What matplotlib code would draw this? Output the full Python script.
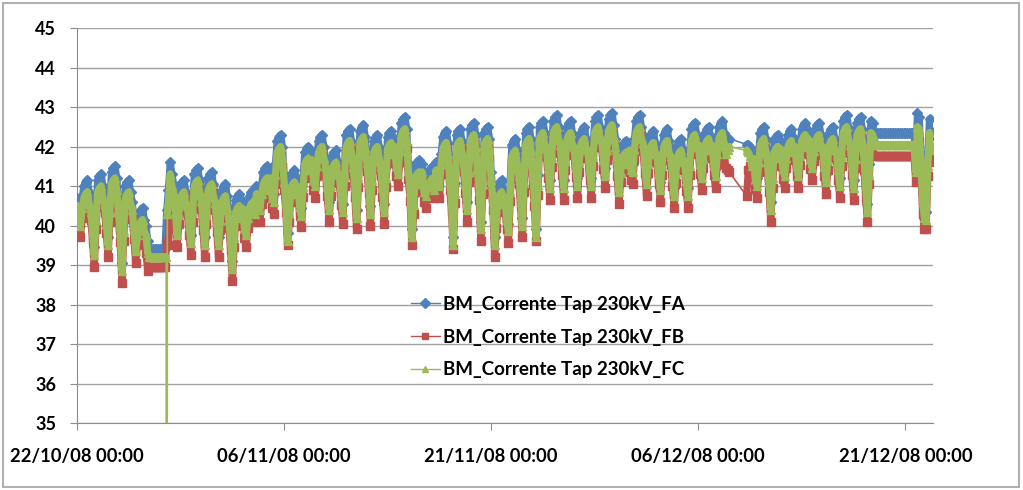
import numpy as np
import pandas as pd
import matplotlib
matplotlib.use("Agg")
import matplotlib.pyplot as plt
import matplotlib.dates as mdates
from matplotlib.lines import Line2D
from matplotlib.patches import Rectangle

plt.rcParams['font.family'] = ['Lato', 'DejaVu Sans']

# readings every 3 hours from 22/10/08 00:00, one row per day (nan = no reading)
START = "2008-10-22 00:00"
STEP = "3h"
nan = np.nan

fa = [
    40.7, 40.4, 40.2, 40.7, 41.0, 41.1, 41.15, 40.85,
    40.55, 40.05, 39.45, 40.4, 41.15, 41.25, 41.3, 41.0,
    40.75, 40.25, 39.7, 40.6, 41.35, 41.45, 41.5, 41.2,
    40.53, 40.03, 39.05, 40.1, 41.0, 41.1, 41.15, 40.85,
    40.6, 40.1, 39.55, 40.0, 40.3, 40.4, 40.45, 40.15,
    40.0, 39.6, 39.4, 39.4, 39.4, 39.4, 39.4, 39.4,
    39.4, 39.4, 39.4, 39.4, 40.4, 40.9, 41.6, 41.3,
    41.03, 40.53, 39.95, 40.55, 41.0, 41.1, 41.15, 40.85,
    40.7, 40.2, 39.75, 40.6, 41.3, 41.4, 41.45, 41.15,
    40.83, 40.33, 39.7, 40.53, 41.2, 41.3, 41.35, 41.05,
    40.78, 40.28, 39.7, 40.38, 40.9, 41.0, 41.05, 40.75,
    40.33, 39.83, 39.1, 39.95, 40.65, 40.75, 40.8, 40.5,
    40.63, 40.13, 39.95, 40.43, 40.75, 40.85, 40.9, 40.6,
    41.0, 40.65, 40.6, 41.05, 41.35, 41.45, 41.5, 41.2,
    41.4, 40.9, 40.8, 41.55, 42.15, 42.25, 42.3, 42.0,
    41.3, 40.8, 39.8, 40.6, 41.25, 41.35, 41.4, 41.1,
    41.18, 40.68, 40.45, 41.23, 41.85, 41.95, 42.0, 41.7,
    41.85, 41.35, 41.2, 41.75, 42.15, 42.25, 42.3, 42.0,
    41.7, 41.2, 40.6, 41.25, 41.75, 41.85, 41.9, 41.6,
    41.48, 40.98, 40.55, 41.5, 42.3, 42.4, 42.45, 42.15,
    41.68, 41.18, 40.4, 41.48, 42.4, 42.5, 42.55, 42.25,
    41.78, 41.28, 40.5, 41.4, 42.15, 42.25, 42.3, 42.0,
    41.68, 41.18, 40.55, 41.48, 42.25, 42.35, 42.4, 42.1,
    42.2, 41.7, 41.5, 42.13, 42.6, 42.7, 42.75, 42.45,
    41.58, 41.08, 39.9, 40.78, 41.5, 41.6, 41.65, 41.35,
    41.55, 41.05, 40.95, 41.23, 41.35, 41.45, 41.5, 41.2,
    41.6, 41.25, 41.2, 41.8, 42.25, 42.35, 42.4, 42.1,
    41.3, 40.8, 39.7, 41.08, 42.3, 42.4, 42.45, 42.15,
    41.78, 41.28, 40.6, 41.6, 42.45, 42.55, 42.6, 42.3,
    41.6, 41.1, 40.1, 41.3, 42.35, 42.45, 42.5, 42.2,
    41.35, 40.85, 39.7, 40.43, 41.0, 41.1, 41.15, 40.85,
    40.85, 40.35, 40.05, 41.13, 42.05, 42.15, 42.2, 41.9,
    41.45, 40.95, 40.2, 41.35, 42.35, 42.45, 42.5, 42.2,
    41.45, 40.95, 39.9, 41.28, 42.5, 42.6, 42.65, 42.35,
    42.15, 41.65, 41.15, 41.98, 42.65, 42.75, 42.8, 42.5,
    42.23, 41.73, 41.15, 41.9, 42.5, 42.6, 42.65, 42.35,
    42.18, 41.68, 41.2, 41.85, 42.35, 42.45, 42.5, 42.2,
    42.1, 41.6, 41.2, 42.0, 42.65, 42.75, 42.8, 42.5,
    42.38, 41.88, 41.45, 42.15, 42.7, 42.8, 42.85, 42.55,
    42.2, 41.7, 41.05, 41.6, 42.0, 42.1, 42.15, 41.85,
    42.1, 41.6, 41.55, 42.18, 42.65, 42.75, 42.8, 42.5,
    42.28, 41.78, 41.25, 41.83, 42.25, 42.35, 42.4, 42.1,
    42.0, 41.5, 41.1, 41.78, 42.3, 42.4, 42.45, 42.15,
    41.95, 41.45, 40.95, 41.58, 42.05, 42.15, 42.2, 41.9,
    41.83, 41.33, 40.95, 41.78, 42.45, 42.55, 42.6, 42.3,
    42.25, 41.75, 41.4, 41.95, 42.35, 42.45, 42.5, 42.2,
    42.23, 41.73, 41.45, 42.05, 42.5, 42.6, 42.65, 42.35,
    42.1, 42.15, 42.2, nan, nan, nan, nan, nan,
    nan, nan, nan, nan, 42.05, 42.05, 42.0, 41.9,
    41.88, 41.38, 41.2, 41.85, 42.35, 42.45, 42.5, 42.2,
    41.8, 41.3, 40.6, 41.45, 42.15, 42.25, 42.3, 42.0,
    42.13, 41.63, 41.45, 41.95, 42.3, 42.4, 42.45, 42.15,
    42.2, 41.7, 41.45, 42.03, 42.45, 42.55, 42.6, 42.3,
    42.38, 41.88, 41.65, 42.13, 42.45, 42.55, 42.6, 42.3,
    42.2, 41.7, 41.3, 41.9, 42.35, 42.45, 42.5, 42.2,
    42.1, 41.6, 41.2, 42.0, 42.65, 42.75, 42.8, 42.5,
    42.23, 41.73, 41.15, 41.95, 42.6, 42.7, 42.75, 42.45,
    41.9, 41.2, 40.55, 41.55, 42.65, 42.6, 42.33, 42.33,
    42.33, 42.33, 42.33, 42.33, 42.33, 42.33, 42.33, 42.33,
    42.33, 42.33, 42.33, 42.33, 42.33, 42.33, 42.33, 42.33,
    42.33, 42.33, 42.33, 42.33, 42.33, 42.33, 41.6, 42.85,
    42.75, 41.8, 40.8, 40.4, 40.35, 41.75, 42.7, 42.4,
    42.3,
]

fb = [
    40.3, 39.95, 39.7, 40.2, 40.55, 40.65, 40.7, 40.35,
    40.15, 39.6, 38.95, 39.9, 40.7, 40.8, 40.85, 40.5,
    40.35, 39.8, 39.2, 40.1, 40.9, 41.0, 41.05, 40.7,
    40.13, 39.58, 38.55, 39.6, 40.55, 40.65, 40.7, 40.35,
    40.2, 39.65, 39.05, 39.5, 39.85, 39.95, 40.0, 39.65,
    39.3, 38.85, 38.95, 38.95, 38.95, 38.95, 38.95, 38.95,
    38.95, 38.95, 38.95, 38.95, 39.6, 39.5, 41.0, 40.7,
    40.63, 40.08, 39.45, 40.05, 40.55, 40.65, 40.7, 40.35,
    40.3, 39.75, 39.25, 40.1, 40.85, 40.95, 41.0, 40.65,
    40.43, 39.88, 39.2, 40.03, 40.75, 40.85, 40.9, 40.55,
    40.38, 39.83, 39.2, 39.88, 40.45, 40.55, 40.6, 40.25,
    39.93, 39.38, 38.6, 39.45, 40.2, 40.3, 40.35, 40.0,
    40.23, 39.68, 39.45, 39.93, 40.3, 40.4, 40.45, 40.1,
    40.6, 40.2, 40.1, 40.55, 40.9, 41.0, 41.05, 40.7,
    41.0, 40.45, 40.3, 41.05, 41.7, 41.8, 41.85, 41.5,
    40.9, 40.35, 39.5, 40.1, 40.8, 40.9, 40.95, 40.6,
    40.78, 40.23, 39.95, 40.73, 41.4, 41.5, 41.55, 41.2,
    41.45, 40.9, 40.7, 41.25, 41.7, 41.8, 41.85, 41.5,
    41.3, 40.75, 40.1, 40.75, 41.3, 41.4, 41.45, 41.1,
    41.08, 40.53, 40.05, 41.0, 41.85, 41.95, 42.0, 41.65,
    41.28, 40.73, 39.9, 40.98, 41.95, 42.05, 42.1, 41.75,
    41.38, 40.83, 40.0, 40.9, 41.7, 41.8, 41.85, 41.5,
    41.28, 40.73, 40.05, 40.98, 41.8, 41.9, 41.95, 41.6,
    41.8, 41.25, 41.0, 41.63, 42.15, 42.25, 42.3, 41.95,
    41.18, 40.63, 39.5, 40.28, 41.05, 41.15, 41.2, 40.85,
    41.15, 40.6, 40.45, 40.73, 40.9, 41.0, 41.05, 40.7,
    41.2, 40.8, 40.7, 41.3, 41.8, 41.9, 41.95, 41.6,
    40.9, 40.35, 39.4, 40.58, 41.85, 41.95, 42.0, 41.65,
    41.38, 40.83, 40.1, 41.1, 42.0, 42.1, 42.15, 41.8,
    41.2, 40.65, 39.6, 40.8, 41.9, 42.0, 42.05, 41.7,
    40.95, 40.4, 39.2, 39.93, 40.55, 40.65, 40.7, 40.35,
    40.45, 39.9, 39.55, 40.63, 41.6, 41.7, 41.75, 41.4,
    41.05, 40.5, 39.7, 40.85, 41.9, 42.0, 42.05, 41.7,
    41.05, 40.5, 39.6, 40.78, 42.05, 42.15, 42.2, 41.85,
    41.75, 41.2, 40.65, 41.48, 42.2, 42.3, 42.35, 42.0,
    41.83, 41.28, 40.65, 41.4, 42.05, 42.15, 42.2, 41.85,
    41.78, 41.23, 40.7, 41.35, 41.9, 42.0, 42.05, 41.7,
    41.7, 41.15, 40.7, 41.5, 42.2, 42.3, 42.35, 42.0,
    41.98, 41.43, 40.95, 41.65, 42.25, 42.35, 42.4, 42.05,
    41.8, 41.25, 40.55, 41.1, 41.55, 41.65, 41.7, 41.35,
    41.7, 41.15, 41.05, 41.68, 42.2, 42.3, 42.35, 42.0,
    41.88, 41.33, 40.75, 41.33, 41.8, 41.9, 41.95, 41.6,
    41.6, 41.05, 40.6, 41.28, 41.85, 41.95, 42.0, 41.65,
    41.55, 41.0, 40.45, 41.08, 41.6, 41.7, 41.75, 41.4,
    41.43, 40.88, 40.45, 41.28, 42.0, 42.1, 42.15, 41.8,
    41.85, 41.3, 40.9, 41.45, 41.9, 42.0, 42.05, 41.7,
    41.83, 41.28, 40.95, 41.55, 42.05, 42.15, 42.2, 41.85,
    41.45, 41.4, 41.35, nan, nan, nan, nan, nan,
    nan, nan, nan, nan, 40.75, 41.4, 41.5, 41.3,
    41.48, 40.93, 40.7, 41.35, 41.9, 42.0, 42.05, 41.7,
    41.4, 40.85, 40.1, 40.95, 41.7, 41.8, 41.85, 41.5,
    41.73, 41.18, 40.95, 41.45, 41.85, 41.95, 42.0, 41.65,
    41.8, 41.25, 40.95, 41.53, 42.0, 42.1, 42.15, 41.8,
    41.98, 41.43, 41.15, 41.63, 42.0, 42.1, 42.15, 41.8,
    41.8, 41.25, 40.8, 41.4, 41.9, 42.0, 42.05, 41.7,
    41.7, 41.15, 40.7, 41.5, 42.2, 42.3, 42.35, 42.0,
    41.83, 41.28, 40.65, 41.45, 42.15, 42.25, 42.3, 41.95,
    41.4, 40.7, 40.1, 41.05, 42.2, 42.1, 41.75, 41.75,
    41.75, 41.75, 41.75, 41.75, 41.75, 41.75, 41.75, 41.75,
    41.75, 41.75, 41.75, 41.75, 41.75, 41.75, 41.75, 41.75,
    41.75, 41.75, 41.75, 41.75, 41.75, 41.75, 41.1, 42.2,
    42.15, 41.3, 40.3, 39.9, 39.9, 41.25, 42.0, 41.8,
    41.6,
]

fc = [
    40.5, 40.2, 40.0, 40.45, 40.7, 40.8, 40.85, 40.55,
    40.35, 39.85, 39.25, 40.15, 40.85, 40.95, 41.0, 40.7,
    40.55, 40.05, 39.5, 40.35, 41.05, 41.15, 41.2, 40.9,
    40.33, 39.83, 38.85, 39.85, 40.7, 40.8, 40.85, 40.55,
    40.4, 39.9, 39.35, 39.75, 40.0, 40.1, 40.15, 39.85,
    39.75, 39.3, 39.2, 39.2, 39.2, 39.2, 39.2, 39.2,
    39.2, 39.2, 39.2, 39.2, nan, 40.6, 41.3, 41.0,
    40.83, 40.33, 39.75, 40.3, 40.7, 40.8, 40.85, 40.55,
    40.5, 40.0, 39.55, 40.35, 41.0, 41.1, 41.15, 40.85,
    40.63, 40.13, 39.5, 40.28, 40.9, 41.0, 41.05, 40.75,
    40.58, 40.08, 39.5, 40.13, 40.6, 40.7, 40.75, 40.45,
    40.13, 39.63, 38.9, 39.7, 40.35, 40.45, 40.5, 40.2,
    40.43, 39.93, 39.75, 40.18, 40.45, 40.55, 40.6, 40.3,
    40.8, 40.45, 40.4, 40.8, 41.05, 41.15, 41.2, 40.9,
    41.2, 40.7, 40.6, 41.3, 41.85, 41.95, 42.0, 41.7,
    41.1, 40.6, 39.6, 40.35, 40.95, 41.05, 41.1, 40.8,
    40.98, 40.48, 40.25, 40.98, 41.55, 41.65, 41.7, 41.4,
    41.65, 41.15, 41.0, 41.5, 41.85, 41.95, 42.0, 41.7,
    41.5, 41.0, 40.4, 41.0, 41.45, 41.55, 41.6, 41.3,
    41.28, 40.78, 40.35, 41.25, 42.0, 42.1, 42.15, 41.85,
    41.48, 40.98, 40.2, 41.23, 42.1, 42.2, 42.25, 41.95,
    41.58, 41.08, 40.3, 41.15, 41.85, 41.95, 42.0, 41.7,
    41.48, 40.98, 40.35, 41.23, 41.95, 42.05, 42.1, 41.8,
    42.0, 41.5, 41.3, 41.88, 42.3, 42.4, 42.45, 42.15,
    41.38, 40.88, 39.7, 40.53, 41.2, 41.3, 41.35, 41.05,
    41.35, 40.85, 40.75, 40.98, 41.05, 41.15, 41.2, 40.9,
    41.4, 41.05, 41.0, 41.55, 41.95, 42.05, 42.1, 41.8,
    41.1, 40.6, 39.5, 40.83, 42.0, 42.1, 42.15, 41.85,
    41.58, 41.08, 40.4, 41.35, 42.15, 42.25, 42.3, 42.0,
    41.4, 40.9, 39.9, 41.05, 42.05, 42.15, 42.2, 41.9,
    41.15, 40.65, 39.5, 40.18, 40.7, 40.8, 40.85, 40.55,
    40.65, 40.15, 39.85, 40.88, 41.75, 41.85, 41.9, 41.6,
    41.25, 40.75, 40.0, 41.1, 42.05, 42.15, 42.2, 41.9,
    41.25, 40.75, 39.7, 41.03, 42.2, 42.3, 42.35, 42.05,
    41.95, 41.45, 40.95, 41.73, 42.35, 42.45, 42.5, 42.2,
    42.03, 41.53, 40.95, 41.65, 42.2, 42.3, 42.35, 42.05,
    41.98, 41.48, 41.0, 41.6, 42.05, 42.15, 42.2, 41.9,
    41.9, 41.4, 41.0, 41.75, 42.35, 42.45, 42.5, 42.2,
    42.18, 41.68, 41.25, 41.9, 42.4, 42.5, 42.55, 42.25,
    42.0, 41.5, 40.85, 41.35, 41.7, 41.8, 41.85, 41.55,
    41.9, 41.4, 41.35, 41.93, 42.35, 42.45, 42.5, 42.2,
    42.08, 41.58, 41.05, 41.58, 41.95, 42.05, 42.1, 41.8,
    41.8, 41.3, 40.9, 41.53, 42.0, 42.1, 42.15, 41.85,
    41.75, 41.25, 40.75, 41.33, 41.75, 41.85, 41.9, 41.6,
    41.63, 41.13, 40.75, 41.53, 42.15, 42.25, 42.3, 42.0,
    42.05, 41.55, 41.2, 41.7, 42.05, 42.15, 42.2, 41.9,
    42.03, 41.53, 41.25, 41.8, 42.2, 42.3, 42.35, 42.05,
    41.8, 41.9, 42.0, nan, nan, nan, nan, nan,
    nan, nan, nan, nan, 41.9, 41.85, 41.75, 41.5,
    41.68, 41.18, 41.0, 41.6, 42.05, 42.15, 42.2, 41.9,
    41.6, 41.1, 40.4, 41.2, 41.85, 41.95, 42.0, 41.7,
    41.93, 41.43, 41.25, 41.7, 42.0, 42.1, 42.15, 41.85,
    42.0, 41.5, 41.25, 41.78, 42.15, 42.25, 42.3, 42.0,
    42.18, 41.68, 41.45, 41.88, 42.15, 42.25, 42.3, 42.0,
    42.0, 41.5, 41.1, 41.65, 42.05, 42.15, 42.2, 41.9,
    41.9, 41.4, 41.0, 41.75, 42.35, 42.45, 42.5, 42.2,
    42.03, 41.53, 40.95, 41.7, 42.3, 42.4, 42.45, 42.15,
    41.7, 41.0, 40.35, 41.3, 42.35, 42.3, 42.05, 42.05,
    42.05, 42.05, 42.05, 42.05, 42.05, 42.05, 42.05, 42.05,
    42.05, 42.05, 42.05, 42.05, 42.05, 42.05, 42.05, 42.05,
    42.05, 42.05, 42.05, 42.05, 42.05, 42.05, 41.35, 42.5,
    42.45, 41.6, 40.6, 40.2, 40.15, 41.5, 42.35, 42.1,
    41.9,
]

# FC drops out for one reading on 28/10 (hourly readings around it)
fc_drop_times = ["2008-10-28 11:00", "2008-10-28 12:00", "2008-10-28 13:00"]
fc_drop_vals = [39.2, 0.0, 40.3]

series_names = ["BM_Corrente Tap 230kV_FA",
                "BM_Corrente Tap 230kV_FB",
                "BM_Corrente Tap 230kV_FC"]
colors = ["#4F81BD", "#C0504D", "#9BBB59"]
markers = ["D", "s", "^"]
tick_dates = ["2008-10-22", "2008-11-06", "2008-11-21", "2008-12-06", "2008-12-21"]

times = pd.date_range(START, periods=len(fa), freq=STEP)
s_fa = pd.Series(fa, index=times)
s_fb = pd.Series(fb, index=times)
s_fc = pd.Series(fc, index=times)
s_fc = pd.concat([s_fc, pd.Series(fc_drop_vals, index=pd.to_datetime(fc_drop_times))])
s_fc = s_fc[~s_fc.index.duplicated(keep="last")].sort_index()

fig = plt.figure(figsize=(10.23, 4.90), dpi=100)
ax = fig.add_axes([77 / 1023, 1 - 423 / 490, (933 - 77) / 1023, (423 - 28) / 490])

for i, (s, col, mk) in enumerate(zip([s_fa, s_fb, s_fc], colors, markers)):
    z = 3 + i
    ok = s.dropna()
    # thin connector: bridges missing readings and the single FC dropout
    ax.plot(ok.index, ok.values, color=col, lw=1.2, zorder=z)
    # the densely packed markers of the hourly record read as a thick stroke
    thick = s.where(s > 35)
    ax.plot(thick.index, thick.values, color=col, lw=5.2,
            solid_joinstyle="round", solid_capstyle="round", zorder=z)
    ax.plot(ok.index, ok.values, ls="none", marker=mk,
            ms=5.2 if mk != "D" else 4.8, mec=col, mfc=col, zorder=z)

ax.set_ylim(35, 45)
ax.set_yticks(range(35, 46))
ax.set_xlim(pd.Timestamp("2008-10-22"), pd.Timestamp("2008-12-23"))
ax.set_xticks(pd.to_datetime(tick_dates))
ax.xaxis.set_major_formatter(mdates.DateFormatter("%d/%m/%y %H:%M"))

ax.grid(axis="y", color="#a0a0a0", lw=1)
ax.set_axisbelow(True)
for s in ["top", "right"]:
    ax.spines[s].set_visible(False)
for s in ["left", "bottom"]:
    ax.spines[s].set_color("#8c8c8c")
ax.tick_params(axis="both", colors="#8c8c8c", length=5, labelcolor="black")
ax.tick_params(axis="x", pad=13, labelsize=13.2)
ax.tick_params(axis="y", pad=10, labelsize=13)
for lab in ax.get_xticklabels() + ax.get_yticklabels():
    lab.set_fontweight("bold")

handles = [Line2D([], [], color=c, lw=1, marker=m, ms=5, mec=c, mfc=c)
           for c, m in zip(colors, markers)]
ax.legend(handles, series_names, loc="center left",
          bbox_to_anchor=((394 - 77) / 856, (423 - 337) / 395),
          frameon=False, handlelength=1.55, handletextpad=0.15,
          labelspacing=0.85, prop={"weight": "bold", "size": 13.5})

fig.patches.append(Rectangle((0.003, 0.006), 0.993, 0.988, transform=fig.transFigure,
                             fill=False, edgecolor="#b0b0b0", lw=1.5))

fig.savefig("out.png", dpi=100)
